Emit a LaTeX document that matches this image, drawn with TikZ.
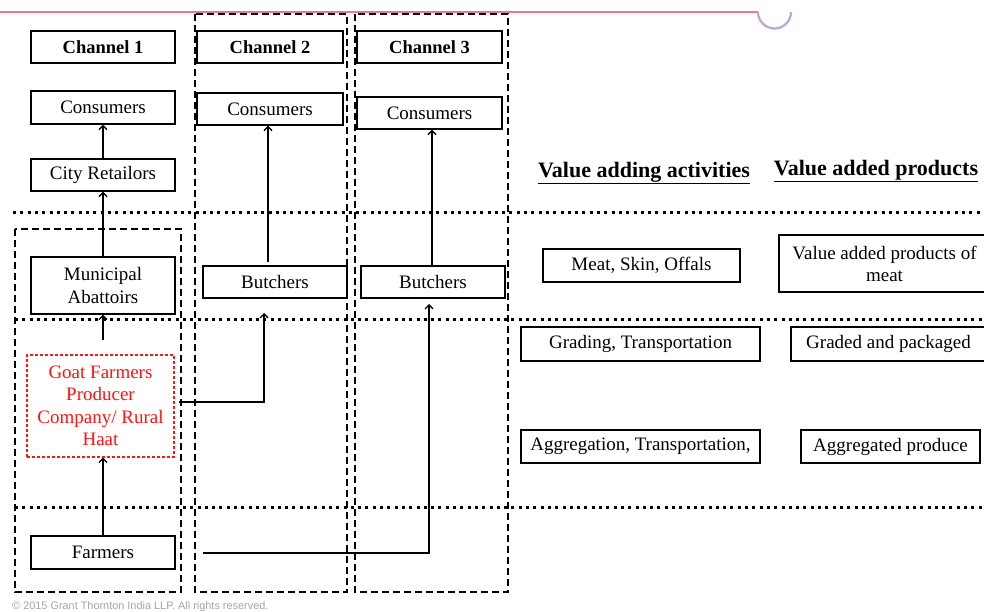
\documentclass[tikz,border=0pt]{standalone}
\usepackage{fontspec}
\setmainfont{Liberation Serif}
\setsansfont{Liberation Sans}
\usetikzlibrary{arrows.meta}
\definecolor{rulepink}{RGB}{232,120,150}
\definecolor{ringlilac}{RGB}{190,165,215}
\definecolor{farmred}{RGB}{255,20,20}
\begin{document}
\begin{tikzpicture}[x=1pt,y=-1pt,
  box/.style={draw=black,line width=1.4pt,inner sep=0pt,align=center,
    font=\fontsize{19}{22}\selectfont},
  chbox/.style={box,font=\fontsize{18.5}{22}\selectfont\bfseries},
  redbox/.style={draw=farmred,dashed,dash pattern=on 3pt off 2pt,line width=1.2pt,
    inner sep=0pt,align=center,text=farmred,font=\fontsize{19}{22.5}\selectfont},
  colframe/.style={draw=black,line width=1.4pt,dash pattern=on 7pt off 4pt},
  rowline/.style={draw=black,line width=3pt,dash pattern=on 3pt off 4.3pt},
  flow/.style={draw=black,line width=1.5pt,-{Straight Barb[length=4pt,width=8pt,line width=1.3pt]}},
  head/.style={font=\fontsize{22}{26}\selectfont\bfseries,inner sep=0pt}]
\useasboundingbox (0,0) rectangle (984,612);
\fill[white] (0,0) rectangle (984,612);

% top rule with the ring
\draw[rulepink,line width=2pt] (0,12.5) -- (758,12.5);
\draw[ringlilac,line width=2.2pt] (758,12) arc[start angle=180,end angle=0,radius=16.5];

% channel frames
\draw[colframe] (195,14) rectangle (347,592);
\draw[colframe] (355,14) rectangle (508,592);
\draw[colframe] (15,229) rectangle (181,592);

% row separators
\draw[rowline] (13,213) -- (984,213);
\draw[rowline] (15,319) -- (984,319);
\draw[rowline] (15,507) -- (984,507);

% channel headers
\node[chbox,minimum width=144,minimum height=32] (ch1) at (103,47) {Channel 1};
\node[chbox,minimum width=146,minimum height=32] (ch2) at (270,47) {Channel 2};
\node[chbox,minimum width=145,minimum height=32] (ch3) at (429.5,47) {Channel 3};

% channel 1
\node[box,minimum width=144,minimum height=33] (con1) at (103,107.5) {Consumers};
\node[box,minimum width=144,minimum height=32] (ret) at (103,175) {City Retailors};
\node[box,minimum width=144,minimum height=57] (mun) at (103,285.5) {Municipal\\Abattoirs};
\node[redbox,minimum width=147,minimum height=102] (goat) at (100.5,406)
  {Goat Farmers\\Producer\\Company/ Rural\\Haat};
\node[box,minimum width=144,minimum height=33] (farm) at (103,552.5) {Farmers};

% channel 2
\node[box,minimum width=146,minimum height=32] (con2) at (270,109) {Consumers};
\node[box,minimum width=144,minimum height=32] (but2) at (275,282) {Butchers};

% channel 3
\node[box,minimum width=145,minimum height=32] (con3) at (429.5,113) {Consumers};
\node[box,minimum width=144,minimum height=32] (but3) at (433,282) {Butchers};

% value chain columns
\node[head] (hact) at (644,173) {\underline{Value adding activities}};
\node[head] (hprod) at (876,171) {\underline{Value added products}};
\node[box,minimum width=197,minimum height=33] (meat) at (641.5,265.5) {Meat, Skin, Offals};
\node[box,minimum width=211,minimum height=57] (vap) at (884.5,263.5) {Value added products of\\meat};
\node[box,minimum width=239,minimum height=34] (grad) at (640.5,344) {Grading, Transportation};
\node[box,minimum width=195,minimum height=34] (gp) at (888.5,344) {Graded and packaged};
\node[box,minimum width=239,minimum height=33] (agg) at (640.5,446.5) {Aggregation, Transportation,};
\node[box,minimum width=179,minimum height=33] (ap) at (890.5,446.5) {Aggregated produce};

% free ends of connectors
\coordinate (goatup) at (103,340);
\coordinate (goatout) at (179,402);
\coordinate (but2in) at (264,313);
\coordinate (but2up) at (268,262);
\coordinate (farmout) at (203,553);
\coordinate (but3in) at (429,304);

% channel 1 flows
\draw[flow] (ret.north) -- (con1.south);
\draw[flow] (mun.north) -- (ret.south);
\draw[flow] (goatup) -- (mun.south);
\draw[flow] (farm.north) -- (goat.south -| farm.north);

% channel 2 flows
\draw[flow] (goatout) -| (but2in);
\draw[flow] (but2up) -- (but2up |- con2.south);

% channel 3 flows
\draw[flow] (farmout) -| (but3in);
\draw[flow] (but3.north -| 432,0) -- (con3.south -| 432,0);

% footer
\node[anchor=west,inner sep=0pt,text=black!35,font=\fontsize{10.9}{12}\selectfont\sffamily]
  (foot) at (12,606.5) {\textcopyright{} 2015 Grant Thornton India LLP. All rights reserved.};
\end{tikzpicture}
\end{document}
